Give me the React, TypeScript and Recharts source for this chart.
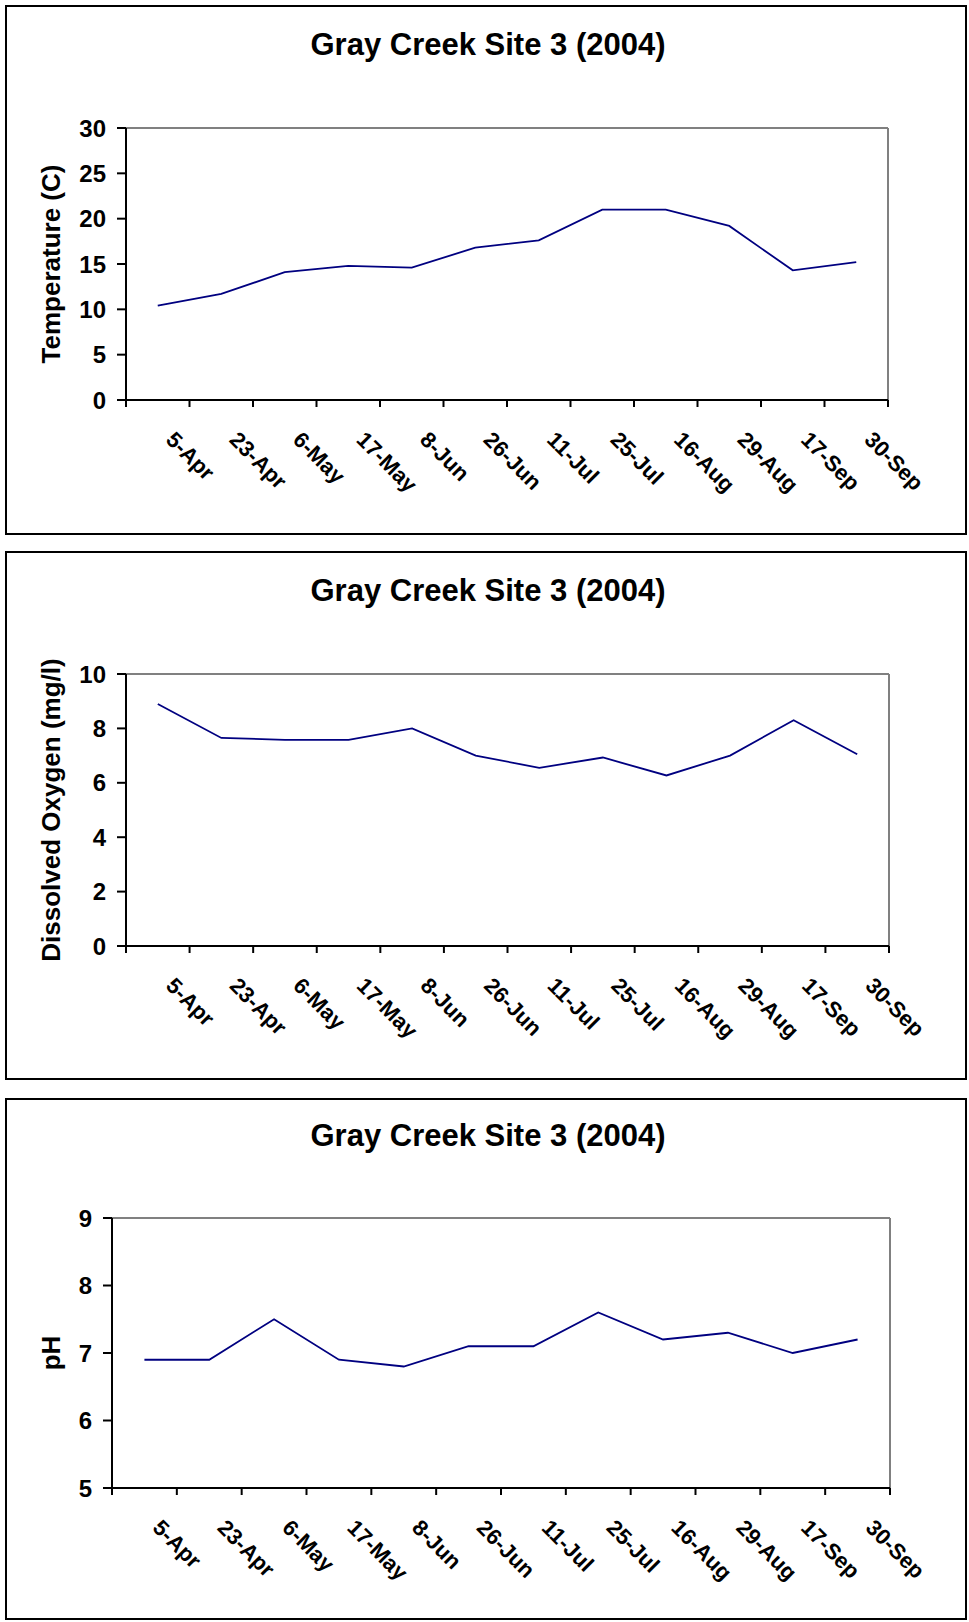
import { LineChart, Line, XAxis, YAxis, ReferenceLine } from "recharts";

const categories = [
  "5-Apr", "23-Apr", "6-May", "17-May", "8-Jun", "26-Jun",
  "11-Jul", "25-Jul", "16-Aug", "29-Aug", "17-Sep", "30-Sep",
];
const temperature = [10.4, 11.7, 14.1, 14.8, 14.6, 16.8, 17.6, 21.0, 21.0, 19.2, 14.3, 15.2];
const dissolvedOxygen = [8.9, 7.65, 7.58, 7.58, 8.0, 7.0, 6.55, 6.93, 6.27, 7.0, 8.3, 7.05];
const ph = [6.9, 6.9, 7.5, 6.9, 6.8, 7.1, 7.1, 7.6, 7.2, 7.3, 7.0, 7.2];

const tempTicks = [0, 5, 10, 15, 20, 25, 30];
const oxygenTicks = [0, 2, 4, 6, 8, 10];
const phTicks = [5, 6, 7, 8, 9];

const chartTitle = "Gray Creek Site 3 (2004)";

// boundaries (integers) carry the tick marks, half steps carry the labels
const xTicks = categories.flatMap((_, i) => [i, i + 0.5]).concat([categories.length]);

const FONT = "'Liberation Sans', Arial, Helvetica, sans-serif";
const PAGE_W = 969;

type Row = { pos: number; label: string; value: number };

const toRows = (values: number[]): Row[] =>
  values.map((v, i) => ({ pos: i + 0.5, label: categories[i], value: v }));

function XTick(props: any) {
  const { x, y, payload } = props;
  const v = payload.value as number;
  if (Number.isInteger(v)) {
    return <line x1={x} y1={y} x2={x} y2={y + 7} stroke="#000" strokeWidth={2} />;
  }
  const text = categories[Math.floor(v)];
  const ax = x + 7;
  const ay = y + 41;
  return (
    <text
      x={ax}
      y={ay}
      transform={`rotate(45, ${ax}, ${ay})`}
      textAnchor="start"
      fontFamily={FONT}
      fontWeight="bold"
      fontSize={22}
      fill="#000"
    >
      {text}
    </text>
  );
}

type PanelProps = {
  top: number;
  height: number;
  plotLeft: number;
  plotRight: number;
  plotTop: number;
  plotBottom: number;
  titleOffset: number;
  yLabel: string;
  domain: [number, number];
  ticks: number[];
  values: number[];
};

function Panel({
  top, height, plotLeft, plotRight, plotTop, plotBottom,
  titleOffset, yLabel, domain, ticks, values,
}: PanelProps) {
  const yAxisWidth = 80;
  const xAxisHeight = 90;
  const margin = {
    top: plotTop - top,
    right: PAGE_W - plotRight,
    left: plotLeft - yAxisWidth,
    bottom: top + height - plotBottom - xAxisHeight,
  };
  const labelX = 51;

  return (
    <>
      <div
        style={{
          position: "absolute",
          left: 5,
          top,
          width: 962,
          height,
          border: "2px solid #000",
          boxSizing: "border-box",
        }}
      />
      <div
        style={{
          position: "absolute",
          left: 188,
          width: 600,
          top: top + titleOffset - 18,
          height: 36,
          lineHeight: "36px",
          textAlign: "center",
          fontFamily: FONT,
          fontWeight: "bold",
          fontSize: 31,
          color: "#000",
          whiteSpace: "nowrap",
        }}
      >
        {chartTitle}
      </div>
      <div style={{ position: "absolute", left: 0, top }}>
        <LineChart width={PAGE_W} height={height} data={toRows(values)} margin={margin}>
          <XAxis
            type="number"
            dataKey="pos"
            domain={[0, categories.length]}
            ticks={xTicks}
            interval={0}
            tickSize={0}
            tickMargin={0}
            tickLine={false}
            axisLine={{ stroke: "#000", strokeWidth: 2 }}
            height={xAxisHeight}
            tick={(p: any) => <XTick {...p} />}
          />
          <YAxis
            type="number"
            domain={domain}
            ticks={ticks}
            interval={0}
            width={yAxisWidth}
            tickSize={9}
            tickMargin={11}
            axisLine={{ stroke: "#000", strokeWidth: 2 }}
            tickLine={{ stroke: "#000", strokeWidth: 2 }}
            tick={{ fill: "#000", fontSize: 24, fontWeight: "bold", fontFamily: FONT }}
            label={(p: any) => {
              const vb = p.viewBox || {};
              const cy = (vb.y ?? 0) + (vb.height ?? 0) / 2;
              return (
                <text
                  x={labelX}
                  y={cy}
                  transform={`rotate(-90, ${labelX}, ${cy})`}
                  textAnchor="middle"
                  dy="0.36em"
                  fontFamily={FONT}
                  fontWeight="bold"
                  fontSize={26}
                  fill="#000"
                >
                  {yLabel}
                </text>
              );
            }}
          />
          <ReferenceLine y={domain[1]} stroke="#808080" strokeWidth={2} />
          <ReferenceLine x={categories.length} stroke="#808080" strokeWidth={2} />
          <Line
            type="linear"
            dataKey="value"
            stroke="#000080"
            strokeWidth={1.8}
            dot={false}
            isAnimationActive={false}
          />
        </LineChart>
      </div>
    </>
  );
}

export default function App() {
  return (
    <div
      style={{
        position: "absolute",
        left: 0,
        top: 0,
        width: PAGE_W,
        height: 1622,
        background: "#fff",
      }}
    >
      <Panel
        top={5}
        height={530}
        plotLeft={126}
        plotRight={888}
        plotTop={128}
        plotBottom={400}
        titleOffset={40}
        yLabel="Temperature (C)"
        domain={[0, 30]}
        ticks={tempTicks}
        values={temperature}
      />
      <Panel
        top={551}
        height={529}
        plotLeft={126}
        plotRight={889}
        plotTop={674}
        plotBottom={946}
        titleOffset={40}
        yLabel="Dissolved Oxygen (mg/l)"
        domain={[0, 10]}
        ticks={oxygenTicks}
        values={dissolvedOxygen}
      />
      <Panel
        top={1098}
        height={522}
        plotLeft={112}
        plotRight={890}
        plotTop={1218}
        plotBottom={1488}
        titleOffset={38}
        yLabel="pH"
        domain={[5, 9]}
        ticks={phTicks}
        values={ph}
      />
    </div>
  );
}
